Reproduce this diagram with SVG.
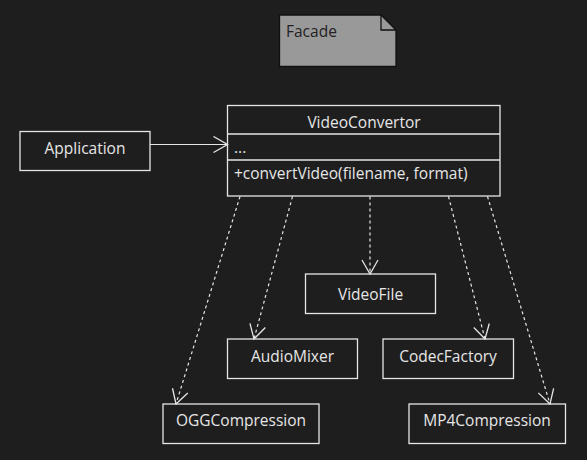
<svg xmlns="http://www.w3.org/2000/svg" width="587" height="460" viewBox="0 0 587 460">
<defs>
<style>
.box{fill:none;stroke:#e6e6e6;stroke-width:1.3}
.t{font-family:"Open Sans","Noto Sans",sans-serif;font-size:15.5px;fill:#e6e6e6}
.c{text-anchor:middle}
.line{fill:none;stroke:#e6e6e6;stroke-width:1.2}
.dash{stroke-dasharray:3 3}
</style>
<marker id="open" viewBox="0 0 16 18" refX="15" refY="9" markerWidth="16" markerHeight="18" markerUnits="userSpaceOnUse" orient="auto">
<path d="M1,1 L15,9 L1,17" fill="none" stroke="#e6e6e6" stroke-width="1.3"/>
</marker>
</defs>
<rect width="587" height="460" fill="#1e1e1e"/>
<g id="facade">
<path d="M279.5,15 H381 L396,30 V66.5 H279.5 Z" fill="#999999" stroke="#111111" stroke-width="1.3"/>
<path d="M381,15 V30 H396" fill="none" stroke="#111111" stroke-width="1.3"/>
<text class="t" x="286" y="36.5" style="fill:#222">Facade</text>
</g>
<g id="application">
<rect class="box" x="20" y="131.5" width="130" height="39"/>
<text class="t c" x="85" y="153.5">Application</text>
</g>
<g id="videoconvertor">
<rect class="box" x="227.5" y="105.5" width="272.5" height="90.5"/>
<line class="box" x1="227.5" y1="134" x2="500" y2="134"/>
<line class="box" x1="227.5" y1="160" x2="500" y2="160"/>
<text class="t c" x="364" y="127.5">VideoConvertor</text>
<text class="t" x="234" y="153">...</text>
<text class="t" x="234" y="178.5">+convertVideo(filename, format)</text>
</g>
<g id="videofile">
<rect class="box" x="305.5" y="274" width="130" height="39.5"/>
<text class="t c" x="370.5" y="299.5">VideoFile</text>
</g>
<g id="audiomixer">
<rect class="box" x="227.5" y="339" width="130" height="39.5"/>
<text class="t c" x="292.5" y="361.5">AudioMixer</text>
</g>
<g id="codecfactory">
<rect class="box" x="383" y="339" width="130.5" height="39.5"/>
<text class="t c" x="448" y="361.5">CodecFactory</text>
</g>
<g id="oggcompression">
<rect class="box" x="163" y="404" width="156" height="39.5"/>
<text class="t c" x="241" y="425.5">OGGCompression</text>
</g>
<g id="mp4compression">
<rect class="box" x="409" y="404" width="156.5" height="39.5"/>
<text class="t c" x="487" y="425.5">MP4Compression</text>
</g>
<g id="connectors">
<line class="line" x1="150" y1="144.5" x2="227.5" y2="144.5" marker-end="url(#open)"/>
<line class="line dash" x1="240" y1="196.5" x2="176" y2="404" marker-end="url(#open)"/>
<line class="line dash" x1="292.5" y1="196.5" x2="254" y2="339" marker-end="url(#open)"/>
<line class="line dash" x1="370" y1="196.5" x2="370" y2="274" marker-end="url(#open)"/>
<line class="line dash" x1="448.5" y1="196.5" x2="485" y2="339" marker-end="url(#open)"/>
<line class="line dash" x1="487.5" y1="196.5" x2="550" y2="404" marker-end="url(#open)"/>
</g>
</svg>
